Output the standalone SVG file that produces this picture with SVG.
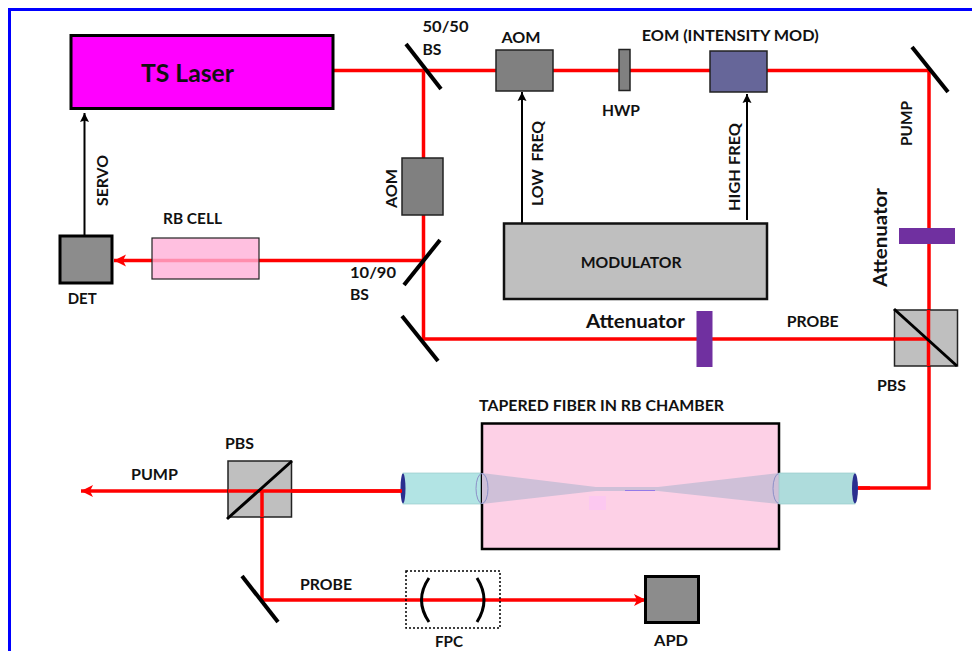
<svg xmlns="http://www.w3.org/2000/svg" width="972" height="651" viewBox="0 0 972 651">
<style>
text{font-family:"Lato","Open Sans","Liberation Sans",sans-serif;font-weight:700;font-size:15.500px;fill:#111;white-space:pre}
.big{font-size:19px}
.beam{stroke:#f00;stroke-width:3.500;fill:none}
.sig{stroke:#000;stroke-width:2;fill:none}
.mirror{stroke:#000;stroke-width:4;fill:none}
.diag{stroke:#000;stroke-width:3;fill:none}
.box{stroke:#222;stroke-width:1.500}
.grey{fill:#808080}
.purple{fill:#7030a0}
.coll{stroke:#9cc;stroke-width:.7}
.ring{fill:none;stroke:#8c90c8;stroke-width:1}
.taper{fill:#cfc0d8}
</style>
<defs>
<marker id="ra" markerUnits="userSpaceOnUse" markerWidth="14" markerHeight="14" refX="12" refY="7" orient="auto"><path d="M0 1L12 7L0 13L3 7Z" fill="#f00"/></marker>
<marker id="ka" markerUnits="userSpaceOnUse" markerWidth="10" markerHeight="10" refX="9" refY="5" orient="auto"><path d="M0 0.500L9 5L0 9.500L1.500 5Z" fill="#000"/></marker>
</defs>
<rect id="page" width="972" height="651" fill="#fff"/>
<path id="frame" d="M9.500 651V9.500H972" fill="none" stroke="#0000ff" stroke-width="3"/>

<g id="connectors">
<path class="beam" d="M333 70.500H929V488H858"/>
<path class="beam" d="M423.500 70V339H929"/>
<path class="beam" d="M422 260.500H114" marker-end="url(#ra)"/>
<path class="beam" d="M402 491H81" marker-end="url(#ra)"/>
<path class="beam" d="M262 491V600H646" marker-end="url(#ra)"/>
<path class="sig" d="M84.500 235V113" marker-end="url(#ka)"/>
<path class="sig" d="M522 223V92" marker-end="url(#ka)"/>
<path class="sig" d="M747 220V94" marker-end="url(#ka)"/>
</g>

<g id="ts-laser"><rect x="71" y="35.500" width="262" height="73" fill="#f0f" stroke="#000" stroke-width="3"/><text x="141" y="82" style="font-size:25px" textLength="93" lengthAdjust="spacingAndGlyphs">TS Laser</text></g>
<g id="bs-5050"><path class="mirror" d="M406 44L441 89"/><text x="422.500" y="32.300" textLength="46" lengthAdjust="spacingAndGlyphs">50/50</text><text x="422.500" y="54.700" textLength="19" lengthAdjust="spacingAndGlyphs">BS</text></g>
<g id="aom-top"><rect class="box grey" x="496" y="50" width="57" height="41"/><text x="501.500" y="43" textLength="39" lengthAdjust="spacingAndGlyphs">AOM</text></g>
<g id="hwp"><rect class="box grey" x="619" y="49.500" width="11" height="41"/><text x="602" y="116.300" textLength="38" lengthAdjust="spacingAndGlyphs">HWP</text></g>
<g id="eom"><rect class="box" x="710" y="51" width="57" height="41" fill="#666699"/><text x="641.700" y="40.700" textLength="177" lengthAdjust="spacingAndGlyphs">EOM (INTENSITY MOD)</text></g>
<g id="mirror-top-right"><path class="mirror" d="M912 47L948 92"/><text transform="translate(912 146) rotate(-90)" textLength="45" lengthAdjust="spacingAndGlyphs">PUMP</text></g>
<g id="attenuator-pump"><rect class="purple" x="899" y="228" width="56" height="16"/><text class="big" transform="translate(887 287) rotate(-90)" textLength="99" lengthAdjust="spacingAndGlyphs">Attenuator</text></g>
<g id="aom-side"><rect class="box grey" x="402" y="158" width="41" height="57"/><text transform="translate(397 208) rotate(-90)" textLength="39" lengthAdjust="spacingAndGlyphs">AOM</text></g>
<g id="bs-1090"><path class="mirror" d="M440 240L404 285"/><text x="350" y="278.300" textLength="46" lengthAdjust="spacingAndGlyphs">10/90</text><text x="350" y="300" textLength="19" lengthAdjust="spacingAndGlyphs">BS</text></g>
<g id="rb-cell"><rect x="152" y="238" width="107" height="41" fill="#ffb0d8" fill-opacity=".8" stroke="#222" stroke-width="1.200"/><text x="163" y="224" textLength="59" lengthAdjust="spacingAndGlyphs">RB CELL</text></g>
<g id="det"><rect x="60" y="236" width="52" height="47" fill="#8c8c8c" stroke="#000" stroke-width="3"/><text x="67.700" y="304.300" textLength="29" lengthAdjust="spacingAndGlyphs">DET</text></g>
<text id="servo" transform="translate(108 206) rotate(-90)" textLength="51" lengthAdjust="spacingAndGlyphs">SERVO</text>
<text id="low-freq" transform="translate(542.500 206) rotate(-90)" textLength="85" lengthAdjust="spacingAndGlyphs">LOW  FREQ</text>
<text id="high-freq" transform="translate(740 211) rotate(-90)" textLength="88" lengthAdjust="spacingAndGlyphs">HIGH FREQ</text>
<g id="modulator"><rect x="504" y="223.500" width="263" height="75.500" fill="#bfbfbf" stroke="#111" stroke-width="2.500"/><text x="580.700" y="267.700" textLength="101" lengthAdjust="spacingAndGlyphs">MODULATOR</text></g>
<g id="mirror-probe"><path class="mirror" d="M402 316L438 361"/></g>
<g id="attenuator-probe"><rect class="purple" x="696.500" y="311" width="16" height="56"/><text class="big" x="586" y="328" textLength="99" lengthAdjust="spacingAndGlyphs">Attenuator</text><text x="786.700" y="327" textLength="52" lengthAdjust="spacingAndGlyphs">PROBE</text></g>
<g id="pbs-right"><rect class="box" x="894.500" y="310" width="63" height="56" fill="#bfbfbf"/><path class="beam" d="M894 339H929M928.500 310V366"/><path class="diag" d="M894 309L957 366"/><text x="877" y="390.700" textLength="29" lengthAdjust="spacingAndGlyphs">PBS</text></g>

<g id="fiber-left"><rect class="coll" x="403" y="473" width="79" height="31" fill="#b2e4e4"/><ellipse cx="403" cy="488.500" rx="2.500" ry="15" fill="#2a2f8f"/></g>
<g id="chamber"><rect x="482" y="423.500" width="297" height="125.500" fill="#fdd0e6" stroke="#000" stroke-width="2.500"/><text x="479" y="411" textLength="245" lengthAdjust="spacingAndGlyphs">TAPERED FIBER IN RB CHAMBER</text>
<path class="taper" d="M482 473L596 487H658L779 473V504L658 491H596L482 504Z"/>
<path d="M625 490.500H655" stroke="#7a5cf0" stroke-width="1" stroke-opacity=".7" fill="none"/>
<rect x="589" y="496" width="17" height="14" fill="#fcc8f0"/>
<ellipse class="ring" cx="482" cy="488.500" rx="6" ry="15"/><ellipse class="ring" cx="779" cy="488.500" rx="6" ry="15"/></g>
<g id="fiber-right"><rect class="coll" x="779" y="473" width="76" height="31" fill="#aedcdc"/><ellipse cx="855" cy="488.500" rx="3" ry="15" fill="#2a2f8f"/></g>
<path class="beam" d="M858 488H870"/>

<g id="pbs-left"><rect class="box" x="228" y="461" width="63.500" height="56" fill="#bfbfbf"/><path class="beam" d="M228 491H291M262 491V517"/><path class="diag" d="M227 519L292 461"/><text x="225" y="449" textLength="29" lengthAdjust="spacingAndGlyphs">PBS</text><text x="131" y="480" textLength="47" lengthAdjust="spacingAndGlyphs">PUMP</text></g>
<path class="beam" d="M402 491H291"/>
<g id="mirror-bottom"><path class="mirror" d="M242 576L278 622"/><text x="300" y="590" textLength="52" lengthAdjust="spacingAndGlyphs">PROBE</text></g>
<g id="fpc"><rect x="406" y="571" width="94" height="57" fill="none" stroke="#000" stroke-width="1.500" stroke-dasharray="2 2"/><path d="M429 578Q414 600 429 622M477 578Q491 600 477 622" fill="none" stroke="#000" stroke-width="3"/><text x="435" y="647" textLength="28" lengthAdjust="spacingAndGlyphs">FPC</text></g>
<g id="apd"><rect x="645.500" y="576.500" width="53" height="46" fill="#8c8c8c" stroke="#000" stroke-width="3"/><text x="654" y="646" textLength="34" lengthAdjust="spacingAndGlyphs">APD</text></g>
</svg>
